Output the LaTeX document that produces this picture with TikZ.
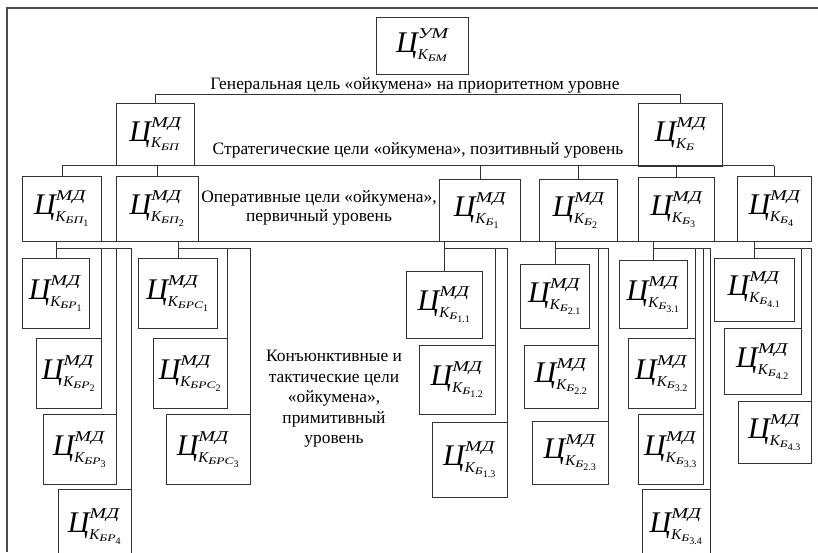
\documentclass[tikz,border=0pt]{standalone}
\usepackage{amsmath}
\usepackage{graphicx}
\usepackage{fontspec}
\setmainfont{Liberation Serif}
\usetikzlibrary{calc}
\DeclareMathSizes{30}{30}{15}{10}

% goal symbol: Ц^{sup}_{К_{sub_{index}}}
\newcommand{\goal}[3]{$\text{\itshape Ц}^{\text{\itshape\scalebox{1.35}[1]{#1}}}_{\text{\itshape К}_{\text{\itshape\scalebox{1.35}[1]{#2}}_{\text{#3}}}}$}

\begin{document}
\begin{tikzpicture}[x=1pt, y=-1pt,
    goal/.style={draw=black!80, line width=0.9pt, inner sep=0pt, anchor=north west,
      font=\fontsize{30}{32}\selectfont},
    boxsize/.style 2 args={minimum width=#1pt, minimum height=#2pt},
    link/.style={draw=black!80, line width=0.9pt},
    caption/.style={font=\fontsize{17.4}{19}\selectfont, align=center, inner sep=0pt},
    frame/.style={draw=black!70, line width=1.6pt}]
    \useasboundingbox (0,0) rectangle (818,552);

    % Draw the frame
    \draw[frame] (7,552) -- (7,8) -- (818,8);

    % General goal
    \node[goal, boxsize={92}{57}] (um) at (376,17) {\goal{УМ}{БМ}{}};
    \node[caption] (t1) at (415,85) {Генеральная цель «ойкумена» на приоритетном уровне};

    % Strategic goals
    \node[goal, boxsize={78}{62}] (bp) at (116,103) {\goal{МД}{БП}{}};
    \node[goal, boxsize={84}{63}] (b) at (638,103) {\goal{МД}{Б}{}};
    \node[caption] (t2) at (418,150) {Стратегические цели «ойкумена», позитивный уровень};
    \draw[link] (bp.north) -- ++(0,-9) -| (b.north);

    % Operative goals
    \node[goal, boxsize={79}{65}] (bp1) at (22,176) {\goal{МД}{БП}{1}};
    \node[goal, boxsize={82}{65}] (bp2) at (116,176) {\goal{МД}{БП}{2}};
    \node[goal, boxsize={81}{62}] (b1) at (439,179) {\goal{МД}{Б}{1}};
    \node[goal, boxsize={78}{62}] (b2) at (539,179) {\goal{МД}{Б}{2}};
    \node[goal, boxsize={76}{64}] (b3) at (638,177) {\goal{МД}{Б}{3}};
    \node[goal, boxsize={74}{65}] (b4) at (737,176) {\goal{МД}{Б}{4}};
    \node[caption] (t3) at (319,208)
      {Оперативные цели «ойкумена»,\\первичный уровень};
    \draw[link] (bp1.north |- bp.south) -- (b4.north |- bp.south);
    \foreach \n in {bp1,bp2,b1,b2,b3,b4}
        \draw[link] (\n.north) -- (\n.north |- bp.south);
    \draw[link] (bp1.south west) -- (b4.south east);

    % Conjunctive and tactical goals
    \node[goal, boxsize={67}{70}] (br1) at (22,258) {\goal{МД}{БР}{1}};
    \node[goal, boxsize={65}{70}] (br2) at (36,338) {\goal{МД}{БР}{2}};
    \node[goal, boxsize={73}{70}] (br3) at (43,414) {\goal{МД}{БР}{3}};
    \node[goal, boxsize={73}{75}] (br4) at (58,489) {\goal{МД}{БР}{4}};

    \node[goal, boxsize={79}{70}] (brs1) at (138,258) {\goal{МД}{БРС}{1}};
    \node[goal, boxsize={74}{70}] (brs2) at (153,338) {\goal{МД}{БРС}{2}};
    \node[goal, boxsize={84}{70}] (brs3) at (166,414) {\goal{МД}{БРС}{3}};

    \node[goal, boxsize={76}{67}] (b11) at (406,271) {\goal{МД}{Б}{1.1}};
    \node[goal, boxsize={76}{69}] (b12) at (419,345) {\goal{МД}{Б}{1.2}};
    \node[goal, boxsize={75}{75}] (b13) at (432,422) {\goal{МД}{Б}{1.3}};

    \node[goal, boxsize={69}{64}] (b21) at (520,264) {\goal{МД}{Б}{2.1}};
    \node[goal, boxsize={74}{63}] (b22) at (524,345) {\goal{МД}{Б}{2.2}};
    \node[goal, boxsize={76}{63}] (b23) at (532,421) {\goal{МД}{Б}{2.3}};

    \node[goal, boxsize={68}{68}] (b31) at (619,260) {\goal{МД}{Б}{3.1}};
    \node[goal, boxsize={67}{70}] (b32) at (628,338) {\goal{МД}{Б}{3.2}};
    \node[goal, boxsize={65}{70}] (b33) at (638,414) {\goal{МД}{Б}{3.3}};
    \node[goal, boxsize={68}{75}] (b34) at (642,489) {\goal{МД}{Б}{3.4}};

    \node[goal, boxsize={80}{63}] (b41) at (714,258) {\goal{МД}{Б}{4.1}};
    \node[goal, boxsize={77}{66}] (b42) at (724,328) {\goal{МД}{Б}{4.2}};
    \node[goal, boxsize={73}{62}] (b43) at (738,401) {\goal{МД}{Б}{4.3}};

    \node[caption, font=\fontsize{17.4}{20.5}\selectfont] (t4) at (334,399)
      {Конъюнктивные и\\тактические цели\\«ойкумена»,\\примитивный\\уровень};

    % Links from each operative goal down to its own goals
    \foreach \p/\first/\last/\rest in {bp1/br1/br4/{br2,br3}, bp2/brs1/brs3/{brs2},
        b1/b11/b13/{b12}, b2/b21/b23/{b22}, b3/b31/b34/{b32,b33}, b4/b41/b43/{b42}} {
        \draw[link] (\first.north) -- (\first.north |- \p.south);
        \coordinate (bus) at ($(\first.north |- \p.south)+(0,7)$);
        \draw[link] (bus) -| (\last.north east);
        \foreach \c in \rest
            \draw[link] (bus) -| (\c.north east);
    }
\end{tikzpicture}
\end{document}
